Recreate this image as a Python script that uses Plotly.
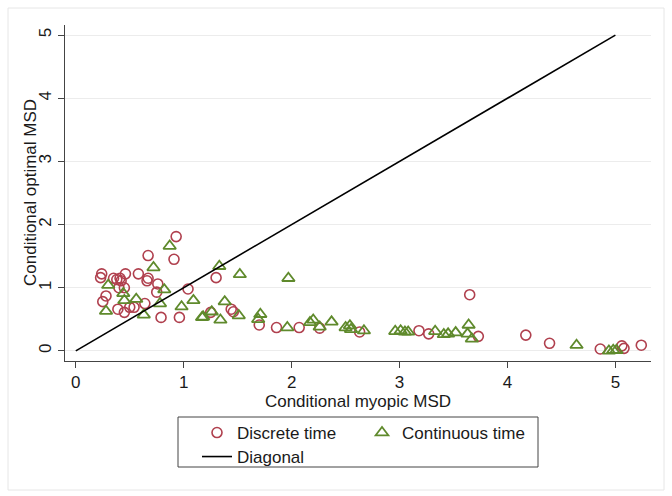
import plotly.graph_objects as go

# Discrete time (red circles)
disc_x = [0.93, 0.67, 0.91, 0.24, 0.23, 0.35, 0.38, 0.41, 0.42, 0.46, 0.58, 0.67, 0.66,
          0.76, 0.40, 0.45, 0.75, 1.04, 0.28, 0.25, 0.39, 0.45, 0.50, 0.54, 0.64, 0.79,
          0.96, 1.30, 1.25, 1.44, 1.46, 1.70, 1.86, 2.07, 2.26, 2.63, 3.18, 3.27, 3.65,
          3.73, 4.17, 4.39, 4.86, 5.06, 5.08, 5.24]
disc_y = [1.81, 1.51, 1.45, 1.22, 1.16, 1.15, 1.13, 1.15, 1.11, 1.22, 1.22, 1.15, 1.11,
          1.06, 1.00, 1.00, 0.93, 0.98, 0.87, 0.78, 0.66, 0.61, 0.69, 0.69, 0.75, 0.53,
          0.53, 1.16, 0.61, 0.66, 0.62, 0.41, 0.37, 0.37, 0.36, 0.30, 0.32, 0.27, 0.89,
          0.23, 0.25, 0.12, 0.03, 0.08, 0.04, 0.09]

# Continuous time (green triangles)
cont_x = [0.87, 0.72, 0.30, 0.82, 0.44, 0.45, 0.56, 0.78, 0.28, 0.63, 0.98, 1.09, 1.18,
          1.17, 1.26, 1.33, 1.52, 1.97, 1.38, 1.34, 1.51, 1.71, 1.69, 1.96, 2.17, 2.20,
          2.26, 2.37, 2.50, 2.54, 2.55, 2.67, 2.96, 3.01, 3.05, 3.08, 3.33, 3.41, 3.45,
          3.52, 3.64, 3.63, 3.67, 4.64, 4.94, 4.98, 5.01]
cont_y = [1.66, 1.32, 1.04, 0.97, 0.91, 0.80, 0.82, 0.75, 0.63, 0.57, 0.70, 0.80, 0.54,
          0.53, 0.62, 1.34, 1.21, 1.15, 0.78, 0.49, 0.56, 0.58, 0.50, 0.37, 0.45, 0.49,
          0.38, 0.46, 0.37, 0.40, 0.34, 0.32, 0.31, 0.32, 0.30, 0.30, 0.31, 0.26, 0.27,
          0.29, 0.41, 0.27, 0.19, 0.09, 0.00, 0.01, 0.01]

diag_x = [0, 5]
diag_y = [0, 5]

ticks = [0, 1, 2, 3, 4, 5]

RED = "#b0404e"
GREEN = "#5f8a2c"
FONT = "Liberation Sans, Arial, sans-serif"
FS = 17

fig = go.Figure()
fig.add_trace(go.Scatter(x=disc_x, y=disc_y, mode="markers", name="Discrete time",
                         legend="legend",
                         marker=dict(symbol="circle-open", size=10, color=RED,
                                     line=dict(width=1.6, color=RED))))
fig.add_trace(go.Scatter(x=cont_x, y=cont_y, mode="markers", name="Continuous time",
                         legend="legend",
                         marker=dict(symbol="triangle-up-open", size=11, color=GREEN,
                                     line=dict(width=1.8, color=GREEN))))
fig.add_trace(go.Scatter(x=diag_x, y=diag_y, mode="lines", name="Diagonal",
                         legend="legend2",
                         line=dict(color="black", width=1.6)))

L, R, T, B = 65, 21, 25, 135
W, H = 672, 496
pw, ph = W - L - R, H - T - B

def px2x(px):
    return (px - L) / pw

def py2y(py):
    return (H - B - py) / ph

leg_common = dict(orientation="h", xanchor="left", yanchor="middle",
                  entrywidth=120, entrywidthmode="pixels",
                  bgcolor="rgba(0,0,0,0)", borderwidth=0,
                  font=dict(family=FONT, size=FS, color="#1a1a1a"),
                  itemsizing="trace", tracegroupgap=0)

fig.update_layout(
    width=W, height=H,
    margin=dict(l=L, r=R, t=T, b=B, autoexpand=False),
    paper_bgcolor="white", plot_bgcolor="white",
    font=dict(family=FONT, size=FS, color="#1a1a1a"),
    showlegend=True,
    legend=dict(x=px2x(197), y=py2y(433), **leg_common),
    legend2=dict(x=px2x(197), y=py2y(457), **leg_common),
    xaxis=dict(range=[-0.10, 5.33], tickvals=ticks, ticktext=[str(t) for t in ticks],
               showgrid=False, zeroline=False, showline=True, linecolor="#444", linewidth=1,
               ticks="outside", ticklen=6, tickcolor="#444",
               tickfont=dict(size=FS),
               title=dict(text="Conditional myopic MSD", font=dict(size=FS), standoff=2)),
    yaxis=dict(range=[-0.16, 5.16], tickvals=ticks, ticktext=[str(t) for t in ticks],
               showgrid=True, gridcolor="#ececec", gridwidth=1, zeroline=False,
               showline=True, linecolor="#444", linewidth=1,
               ticks="outside", ticklen=6, tickcolor="#444", tickangle=-90,
               tickfont=dict(size=FS)),
    annotations=[
        dict(text="Conditional optimal MSD", xref="paper", yref="paper",
             x=px2x(30), y=py2y(193), textangle=-90, showarrow=False,
             xanchor="center", yanchor="middle", font=dict(size=FS)),
    ],
    shapes=[
        dict(type="rect", xref="paper", yref="paper",
             x0=px2x(178), x1=px2x(538), y0=py2y(467), y1=py2y(417),
             line=dict(color="#444", width=1), fillcolor="rgba(0,0,0,0)", layer="above"),
        dict(type="rect", xref="paper", yref="paper",
             x0=px2x(8), x1=px2x(664), y0=py2y(490), y1=py2y(8),
             line=dict(color="#e6e6e6", width=1), fillcolor="rgba(0,0,0,0)", layer="below"),
    ],
)

fig.write_html("out.html")
